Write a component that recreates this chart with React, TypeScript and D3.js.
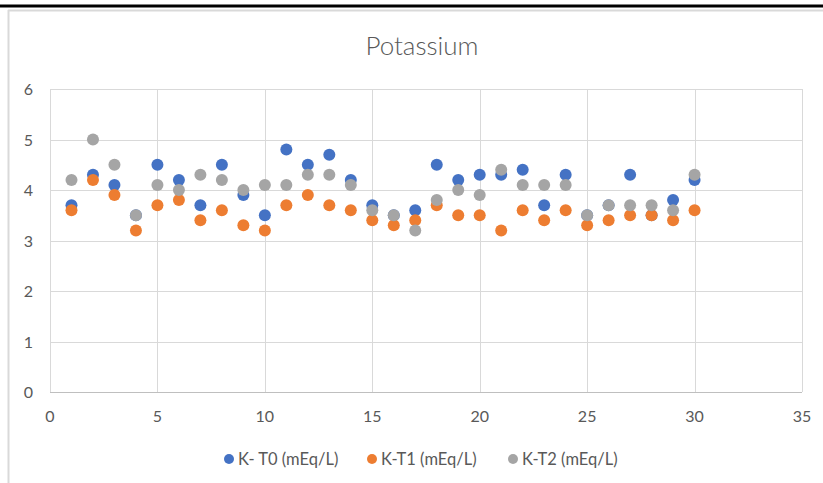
import React from "react";
import * as d3 from "d3";

const samples = d3.range(1, 31);
const seriesNames = ["K- T0 (mEq/L)", "K-T1 (mEq/L)", "K-T2 (mEq/L)"];
const seriesColors = ["#4472c4", "#ed7d31", "#a5a5a5"];
const t0 = [3.7, 4.3, 4.1, 3.5, 4.5, 4.2, 3.7, 4.5, 3.9, 3.5, 4.8, 4.5, 4.7, 4.2, 3.7, 3.5, 3.6, 4.5, 4.2, 4.3, 4.3, 4.4, 3.7, 4.3, 3.5, 3.7, 4.3, 3.5, 3.8, 4.2];
const t1 = [3.6, 4.2, 3.9, 3.2, 3.7, 3.8, 3.4, 3.6, 3.3, 3.2, 3.7, 3.9, 3.7, 3.6, 3.4, 3.3, 3.4, 3.7, 3.5, 3.5, 3.2, 3.6, 3.4, 3.6, 3.3, 3.4, 3.5, 3.5, 3.4, 3.6];
const t2 = [4.2, 5.0, 4.5, 3.5, 4.1, 4.0, 4.3, 4.2, 4.0, 4.1, 4.1, 4.3, 4.3, 4.1, 3.6, 3.5, 3.2, 3.8, 4.0, 3.9, 4.4, 4.1, 4.1, 4.1, 3.5, 3.7, 3.7, 3.7, 3.6, 4.3];
const xTicks = [0, 5, 10, 15, 20, 25, 30, 35];
const yTicks = [0, 1, 2, 3, 4, 5, 6];

const W = 823;
const H = 483;
const font = "Lato, 'Open Sans', sans-serif";

export default function App() {
  const x = d3.scaleLinear().domain([0, 35]).range([50, 802]);
  const y = d3.scaleLinear().domain([0, 6]).range([392, 89]);
  const series = [t0, t1, t2];
  const legendX = [229, 372, 513];

  return (
    <svg width={W} height={H} style={{ position: "absolute", left: 0, top: 0, background: "#fff" }} fontFamily={font}>
      <rect x={0} y={0} width={W} height={H} fill="#fff" />
      {/* frame */}
      <line x1={0} x2={W} y1={6} y2={6} stroke="#000" strokeWidth={3} />
      <line x1={8} x2={W} y1={10.5} y2={10.5} stroke="#d9d9d9" strokeWidth={2} />
      <line x1={8.5} x2={8.5} y1={10} y2={H} stroke="#d9d9d9" strokeWidth={2} />

      <text x={422} y={55} textAnchor="middle" fontSize={26} fontWeight={300} fill="#595959">Potassium</text>

      {/* grid */}
      {yTicks.map((t) => (
        <g key={"y" + t}>
          <line x1={x(0)} x2={x(35)} y1={Math.round(y(t)) + 0.5} y2={Math.round(y(t)) + 0.5} stroke={t === 0 ? "#bfbfbf" : "#d9d9d9"} />
          <text x={33} y={y(t) + 6} textAnchor="end" fontSize={16} fill="#595959">{t}</text>
        </g>
      ))}
      {xTicks.map((t) => (
        <g key={"x" + t}>
          <line x1={Math.round(x(t)) + 0.5} x2={Math.round(x(t)) + 0.5} y1={y(6)} y2={y(0)} stroke="#d9d9d9" />
          <text x={x(t)} y={422} textAnchor="middle" fontSize={16} fill="#595959">{t}</text>
        </g>
      ))}

      {/* points */}
      {series.map((vals, si) => (
        <g key={"s" + si} fill={seriesColors[si]}>
          {vals.map((v, i) => (
            <circle key={i} cx={x(samples[i])} cy={y(v)} r={6} />
          ))}
        </g>
      ))}

      {/* legend */}
      {seriesNames.map((n, i) => (
        <g key={n}>
          <circle cx={legendX[i]} cy={459} r={5} fill={seriesColors[i]} />
          <text x={legendX[i] + 9} y={465} fontSize={16.5} fill="#595959">{n}</text>
        </g>
      ))}
    </svg>
  );
}
